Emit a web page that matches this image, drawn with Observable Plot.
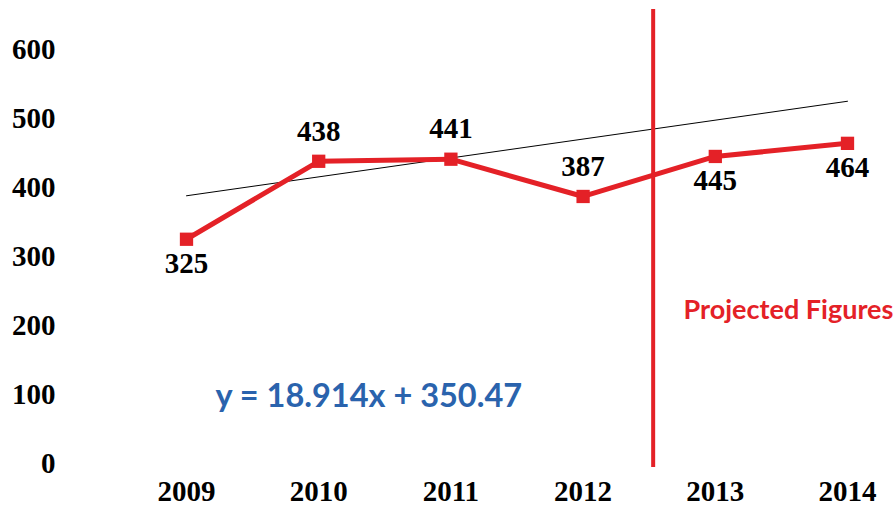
<!DOCTYPE html>
<html>
<head>
<meta charset="utf-8">
<script src="https://cdn.jsdelivr.net/npm/d3@7"></script>
<script src="https://cdn.jsdelivr.net/npm/@observablehq/plot@0.6"></script>
<style>
  html, body { margin: 0; padding: 0; background: #fff; }
</style>
</head>
<body>
<div id="chart"></div>
<script>
const years = [2009, 2010, 2011, 2012, 2013, 2014];
const values = [325, 438, 441, 387, 445, 464];
const labelPos = ["below", "above", "above", "above", "below", "below"];
const yTicks = [0, 100, 200, 300, 400, 500, 600];
const trendYears = [2009, 2014];
const trendValues = [388, 525];
const projectionYear = 2012.53;
const equationText = "y = 18.914x + 350.47";
const projectedText = "Projected Figures";

const data = years.map((year, i) => ({year, value: values[i], pos: labelPos[i]}));
const trend = trendYears.map((year, i) => ({year, value: trendValues[i]}));

const red = "#e42127";
const serif = "'Liberation Serif', 'Times New Roman', serif";

const chart = Plot.plot({
  width: 896,
  height: 509,
  marginTop: 9,
  marginBottom: 42,
  marginLeft: 55,
  marginRight: 0,
  style: {fontFamily: serif, fontWeight: "bold", fontSize: "29px", color: "#000", background: "#fff"},
  x: {type: "linear", domain: [2009, 2014], range: [186, 847], ticks: years, tickFormat: d => String(d), label: null},
  y: {domain: [0, 600], range: [463, 49], ticks: yTicks, label: null},
  marks: [
    Plot.axisX({ticks: years, tickFormat: d => String(d), tickSize: 0, tickPadding: 13, label: null, fontSize: 29, fontFamily: serif, fontWeight: "bold"}),
    Plot.axisY({ticks: yTicks, tickSize: 0, tickPadding: 0, label: null, fontSize: 29, fontFamily: serif, fontWeight: "bold"}),
    Plot.line(trend, {x: "year", y: "value", stroke: "#000", strokeWidth: 1}),
    Plot.line(data, {x: "year", y: "value", stroke: red, strokeWidth: 5}),
    Plot.dot(data, {x: "year", y: "value", symbol: "square", r: 7.5, fill: red, stroke: "none"}),
    Plot.text(data.filter(d => d.pos === "above"), {x: "year", y: "value", text: d => String(d.value), dy: -30, fontSize: 29, fontFamily: serif, fontWeight: "bold", fill: "#000"}),
    Plot.text(data.filter(d => d.pos === "below"), {x: "year", y: "value", text: d => String(d.value), dy: 24, fontSize: 29, fontFamily: serif, fontWeight: "bold", fill: "#000"}),
    Plot.ruleX([projectionYear], {stroke: red, strokeWidth: 4}),
    Plot.text([projectedText], {x: 2012.76, y: 221.7, text: d => d, textAnchor: "start", fontFamily: "Lato", fontWeight: "bold", fontSize: 27, fill: red}),
    Plot.text([equationText], {x: 2009.22, y: 97, text: d => d, textAnchor: "start", fontFamily: "Lato", fontWeight: "bold", fontSize: 32.5, fill: "#2a63ad"})
  ]
});
document.getElementById("chart").appendChild(chart);
</script>
</body>
</html>
